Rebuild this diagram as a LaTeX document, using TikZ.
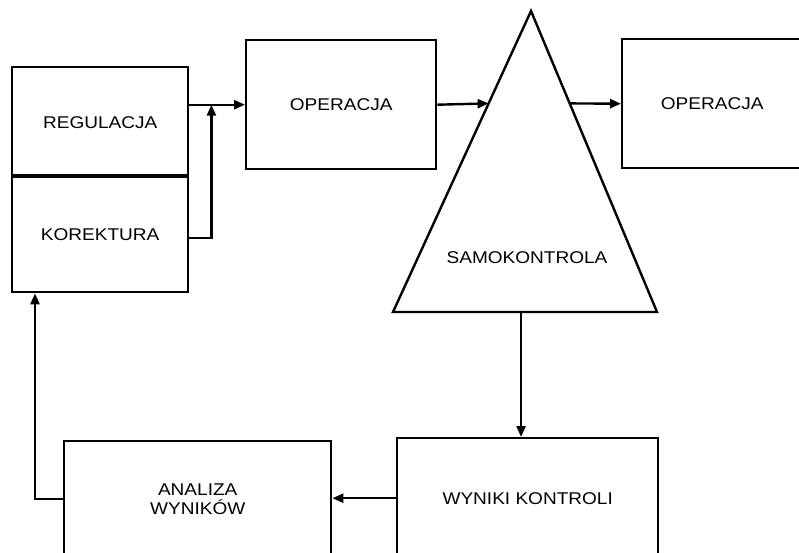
\documentclass[tikz,border=0pt]{standalone}
\usepackage{fontspec}
\setmainfont{Liberation Sans}[FakeStretch=1.12]
\usetikzlibrary{arrows.meta,calc}
\begin{document}
\begin{tikzpicture}[x=1pt,y=-1pt,
  box/.style={draw,line width=2.4pt,inner sep=0pt,anchor=north west,
    font=\fontsize{17}{19.5}\selectfont,align=center},
  conn/.style={line width=2.4pt,-{Triangle[length=11pt,width=9pt]}},
  lbl/.style={font=\fontsize{17}{19.5}\selectfont,align=center}]
\useasboundingbox (0,0) rectangle (799,552);
\clip (0,0) rectangle (799,552);
\fill[white] (0,0) rectangle (799,552);
% boxes
\node[box,minimum width=176pt,minimum height=110pt] (reg) at (11,66) {REGULACJA};
\node[box,minimum width=176pt,minimum height=115pt] (kor) at (11,176) {KOREKTURA};
\draw[line width=4.5pt] (kor.north west) -- (kor.north east);
\node[box,minimum width=190pt,minimum height=129pt] (op1) at (245,39) {OPERACJA};
\node[box,minimum width=180pt,minimum height=129pt] (op2) at (621,38) {OPERACJA};
\node[box,minimum width=261pt,minimum height=120pt] (wyn) at (396,437) {WYNIKI KONTROLI};
\node[box,minimum width=267pt,minimum height=116pt] (ana) at (63,440) {ANALIZA\\WYNIKÓW};
% triangle
\coordinate (apex) at (531,11);
\coordinate (bl) at (393,312);
\coordinate (br) at (657,312);
\draw[line width=2.4pt,line join=miter] (apex) -- (bl) -- (br) -- cycle;
\node[lbl] (samo) at (527,258) {SAMOKONTROLA};
\coordinate (tl) at ($(apex)!0.307!(bl)$);
\coordinate (tr) at ($(apex)!0.307!(br)$);
\coordinate (tb) at ($(bl)!0.485!(br)$);
\coordinate (jn) at ($(reg.east |- op1.west)+(22,0)$);
\coordinate (lf) at ($(kor.south west)+(24,0)$);
% connectors
\draw[conn] (reg.east |- op1.west) -- (op1.west);
\draw[conn] (kor.east |- 0,238) -| (jn);
\draw[conn] (op1.east) -- (tl);
\draw[conn] (tr) -- (op2.west);
\draw[conn] (tb) -- (tb |- wyn.north);
\draw[conn] (wyn.west) -- (ana.east |- wyn.west);
\draw[conn] (ana.west) -| (lf);
\end{tikzpicture}
\end{document}
